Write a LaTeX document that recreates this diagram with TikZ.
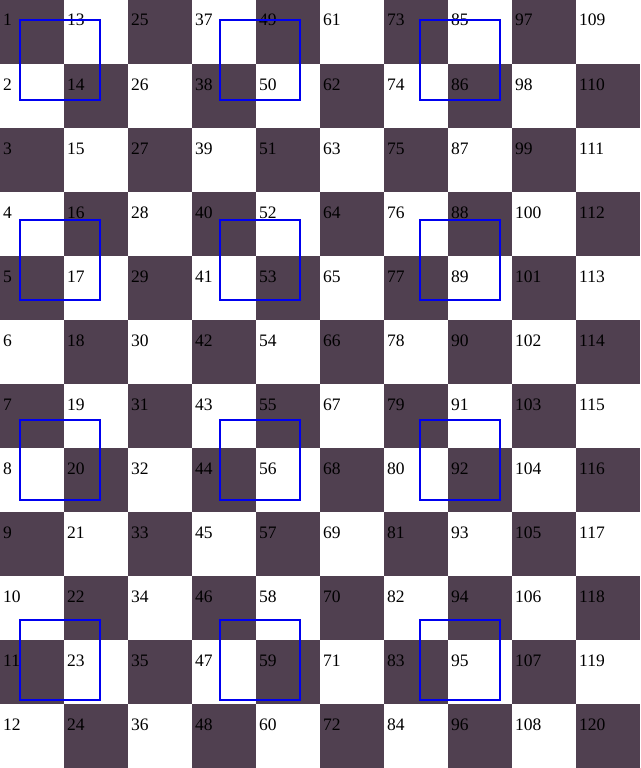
\documentclass[tikz,border=0pt]{standalone}
\usepackage{fontspec}
\setmainfont{Liberation Serif}
\definecolor{darkcell}{RGB}{80,64,80}
\definecolor{bluebox}{RGB}{0,0,240}
\tikzset{
  cell/.style={fill=darkcell, draw=none},
  numlabel/.style={anchor=base west, inner sep=0pt, font=\fontsize{17.5}{17.5}\selectfont},
  marker/.style={draw=bluebox, line width=2.8pt}
}
\begin{document}
\begin{tikzpicture}[x=1pt,y=-1pt]
\useasboundingbox (0,0) rectangle (640,768);
\fill[white] (0,0) rectangle (640,768);
\foreach \c in {0,...,9}{
  \foreach \r in {0,...,11}{
    \pgfmathtruncatemacro{\s}{mod(\c+\r,2)}
    \ifnum\s=0
      \fill[cell] (64*\c,64*\r) rectangle ++(64,64);
    \fi
    \pgfmathtruncatemacro{\n}{12*\c+\r+1}
    \node[numlabel] (n\n) at (64*\c+3,64*\r+26) {\n};
  }
}
\foreach \i in {0,1,2}{
  \foreach \j in {0,1,2,3}{
    \draw[marker] (20+200*\i,20+200*\j) rectangle ++(80,80);
  }
}
\end{tikzpicture}
\end{document}
